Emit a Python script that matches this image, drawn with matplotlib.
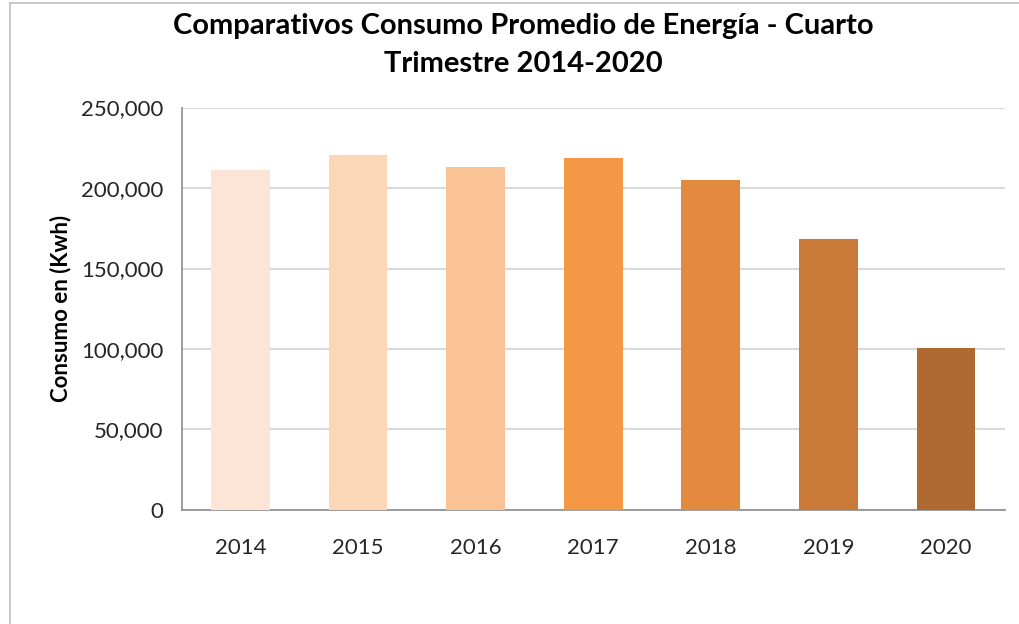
import matplotlib
matplotlib.use('Agg')
import matplotlib.pyplot as plt
from matplotlib.lines import Line2D
from matplotlib.ticker import FuncFormatter

# Data
years = ['2014', '2015', '2016', '2017', '2018', '2019', '2020']
consumo = [211200, 220500, 213200, 218800, 205000, 168500, 100700]
colors = ['#FCE4D6', '#FBD7B8', '#FAC396', '#F59846', '#E38A40', '#CA7A38', '#AE6A30']

plt.rcParams['font.family'] = ['Lato', 'DejaVu Sans']

fig = plt.figure(figsize=(10.2, 6.24), dpi=100)
fig.patch.set_facecolor('white')
ax = fig.add_axes([0.178, 0.1827, 0.807, 0.645])

x = range(len(years))
ax.bar(x, consumo, width=0.5, color=colors, edgecolor='none', zorder=3)

ax.set_ylim(0, 250000)
ax.set_xlim(-0.5, len(years) - 0.5)
ax.set_yticks(range(0, 250001, 50000))
ax.yaxis.set_major_formatter(FuncFormatter(lambda v, p: f'{int(v):,}'))
ax.set_xticks(list(x))
ax.set_xticklabels(years)

ax.grid(axis='y', color='#D9D9D9', linewidth=1.5, zorder=0)
for s in ['top', 'right']:
    ax.spines[s].set_visible(False)
for s in ['left', 'bottom']:
    ax.spines[s].set_color('#8C8C8C')
    ax.spines[s].set_linewidth(1.2)
ax.tick_params(axis='both', length=0, labelsize=16, colors='#404040')
ax.tick_params(axis='y', pad=13)
ax.tick_params(axis='x', pad=20)
for lbl in ax.get_yticklabels() + ax.get_xticklabels():
    lbl.set_color('#262626')

ax.set_ylabel('Consumo en (Kwh)', fontsize=16, fontweight='bold', color='black', labelpad=7)

fig.text(0.513, 0.928, 'Comparativos Consumo Promedio de Energía - Cuarto\nTrimestre 2014-2020',
         ha='center', va='center', fontsize=21, fontweight='bold', color='black',
         linespacing=1.55)

# outer chart border (left and top edges)
fig.add_artist(Line2D([0.0098, 0.0098], [0.0, 0.995], color='#BFBFBF', linewidth=1.2,
                      transform=fig.transFigure))
fig.add_artist(Line2D([0.0098, 1.0], [0.995, 0.995], color='#BFBFBF', linewidth=1.2,
                      transform=fig.transFigure))

fig.savefig('out.png', dpi=100, facecolor='white')
plt.close(fig)
